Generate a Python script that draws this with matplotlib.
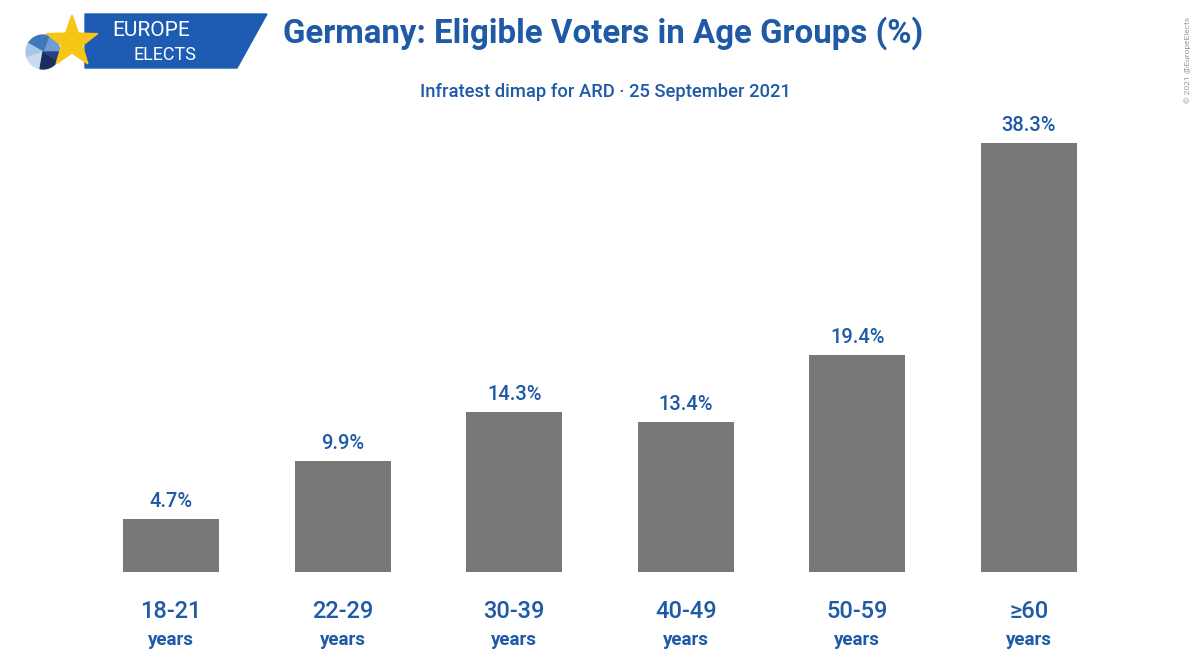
import numpy as np
import matplotlib
matplotlib.use("Agg")
import matplotlib.pyplot as plt
from matplotlib.patches import Polygon, Wedge

categories = ["18-21\nyears", "22-29\nyears", "30-39\nyears", "40-49\nyears", "50-59\nyears", "≥60\nyears"]
values = [4.7, 9.9, 14.3, 13.4, 19.4, 38.3]
value_labels = ["4.7%", "9.9%", "14.3%", "13.4%", "19.4%", "38.3%"]

title = "Germany: Eligible Voters in Age Groups (%)"
subtitle = "Infratest dimap for ARD · 25 September 2021"

BLUE = "#1f5aa6"
BAR = "#787878"
FONT = ["Roboto", "DejaVu Sans"]
plt.rcParams["font.family"] = FONT

fig = plt.figure(figsize=(12, 6.62), dpi=100)
fig.patch.set_facecolor("white")

# main bar axes (pixel-derived placement)
ax = fig.add_axes([85.2 / 1200, 90 / 662, 1029.6 / 1200, 448 / 662])
x = np.arange(len(values))
ax.bar(x, values, width=0.56, color=BAR, zorder=2)
ax.set_xlim(-0.5, len(values) - 0.5)
ax.set_ylim(0, 40)
for xi, v, lab in zip(x, values, value_labels):
    ax.annotate(lab, (xi, v), xytext=(0, 8), textcoords="offset pixels",
                ha="center", va="bottom", color=BLUE, fontsize=14.5, fontweight="medium")
ax.set_xticks(x)
ax.set_xticklabels([])
for xi, c in zip(x, categories):
    top, bot = c.split("\n")
    ax.annotate(top, (xi, 0), xytext=(0, -39), textcoords="offset pixels",
                ha="center", va="center", color=BLUE, fontsize=17, fontweight="medium")
    ax.annotate(bot, (xi, 0), xytext=(0, -68), textcoords="offset pixels",
                ha="center", va="center", color=BLUE, fontsize=13.5, fontweight="bold")
ax.tick_params(length=0)
ax.set_yticks([])
for s in ax.spines.values():
    s.set_visible(False)

# titles
fig.text(603 / 1200, 1 - 33 / 662, title, ha="center", va="center",
         color=BLUE, fontsize=23.8, fontweight="bold")
fig.text(605 / 1200, 1 - 92 / 662, subtitle, ha="center", va="center",
         color=BLUE, fontsize=13.2, fontweight="medium")
fig.text(1188 / 1200, 1 - 60 / 662, "© 2021 @EuropeElects", rotation=90,
         ha="center", va="center", color="#999999", fontsize=6)

# logo overlay in pixel coordinates
lx = fig.add_axes([0, 0, 1, 1], zorder=5)
lx.set_xlim(0, 1200)
lx.set_ylim(662, 0)
lx.axis("off")
lx.patch.set_alpha(0)
lx.add_patch(Polygon([[85, 14], [267, 14], [237, 68], [85, 68]],
                     closed=True, color="#1e5cb3", zorder=1))
cx, cy, r = 43, 52, 17
wedges = [(0, 70, "#6f9fd0"), (70, 150, "#3f78b8"), (150, 200, "#a9c6e6"),
          (200, 260, "#c9dcef"), (260, 330, "#1c2c63"), (330, 360, "#2b3f86")]
for a0, a1, col in wedges:
    lx.add_patch(Wedge((cx, cy), r, -a1, -a0, color=col, zorder=2))
ang = np.deg2rad(-90 + np.arange(10) * 36)
rad = np.where(np.arange(10) % 2 == 0, 27, 11)
star = np.column_stack([72 + rad * np.cos(ang), 42 + rad * np.sin(ang)])
lx.add_patch(Polygon(star, closed=True, color="#f6c516", zorder=3))
lx.text(151, 30, "EUROPE", ha="center", va="center", color="white", fontsize=15)
lx.text(165, 55, "ELECTS", ha="center", va="center", color="white", fontsize=13)

fig.savefig("out.png", dpi=100, facecolor="white")
